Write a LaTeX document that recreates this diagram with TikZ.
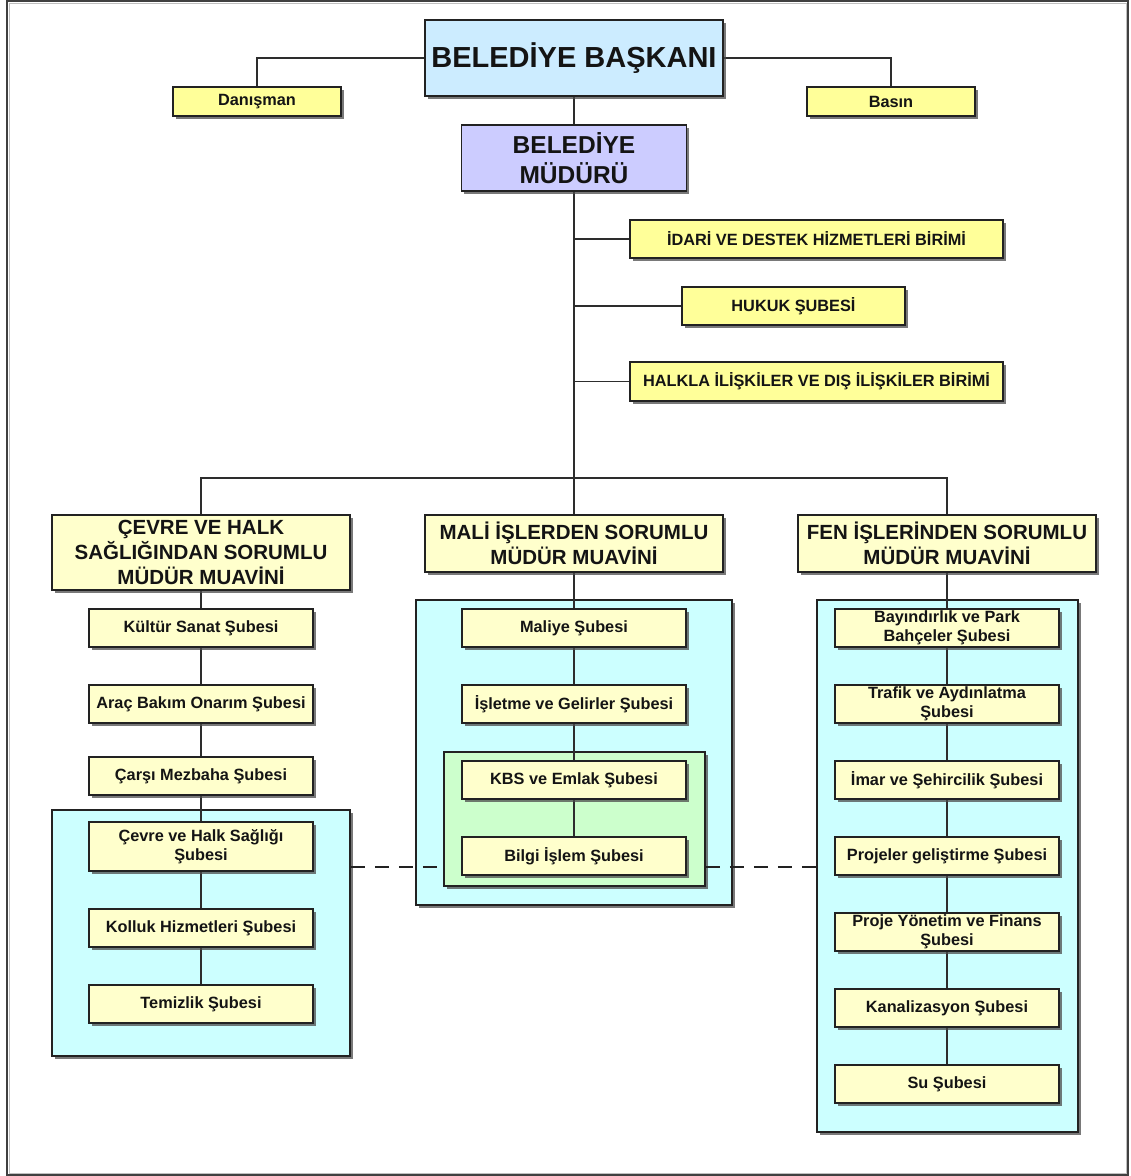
\documentclass[tikz,border=0pt]{standalone}
\usepackage{fontspec}
\setmainfont{Liberation Sans}
\usetikzlibrary{shadows}

\definecolor{boxline}{RGB}{34,34,34}
\definecolor{linkcol}{RGB}{45,45,45}
\definecolor{textcol}{RGB}{20,20,20}
\definecolor{chiefblue}{RGB}{204,236,255}
\definecolor{managerlilac}{RGB}{204,204,255}
\definecolor{stafyellow}{RGB}{255,255,153}
\definecolor{unityellow}{RGB}{255,255,204}
\definecolor{groupcyan}{RGB}{204,255,255}
\definecolor{groupgreen}{RGB}{204,255,204}

\pgfdeclarelayer{groups}
\pgfdeclarelayer{links}
\pgfsetlayers{groups,links,main}

\tikzset{
  shadowed/.style={drop shadow={shadow xshift=2.5pt, shadow yshift=-2.5pt, fill=black!70, opacity=0.75}},
  box/.style={rectangle, draw=boxline, line width=1.8pt, inner sep=0pt, align=center,
    text=textcol, shadowed},
  smallfont/.style={font=\bfseries\fontsize{16.3}{19.5}\selectfont},
  staff/.style={box, smallfont, fill=stafyellow},
  unit/.style={box, smallfont, fill=unityellow, minimum width=224pt, minimum height=38pt},
  deputy/.style={box, fill=unityellow, minimum width=298pt,
    font=\bfseries\fontsize{20.5}{25}\selectfont},
  groupbox/.style={rectangle, draw=boxline, line width=1.8pt, inner sep=0pt, shadowed},
  link/.style={draw=linkcol, line width=1.8pt},
  dashlink/.style={draw=boxline, line width=1.6pt, dash pattern=on 14pt off 10pt},
}

\begin{document}
\begin{tikzpicture}[x=1pt, y=-1pt]
\useasboundingbox (0,0) rectangle (1131,1176);

% outer frame
\draw[draw=black!75, line width=2.2pt] (7,1.2) rectangle (1128,1175);
\draw[draw=black!25, line width=0.8pt] (9,3) rectangle (1126,1173);

% grouping panels
\begin{pgfonlayer}{groups}
  \node[groupbox, fill=groupcyan, minimum width=298pt, minimum height=246pt] (gleft) at (201,933) {};
  \node[groupbox, fill=groupcyan, minimum width=316pt, minimum height=305pt] (gmid) at (574,752.5) {};
  \node[groupbox, fill=groupgreen, minimum width=261pt, minimum height=134pt] (ggreen) at (574.5,819) {};
  \node[groupbox, fill=groupcyan, minimum width=261pt, minimum height=532pt] (gright) at (947.5,866) {};
\end{pgfonlayer}

% top management
\node[box, fill=chiefblue, minimum width=298pt, minimum height=76pt,
      font=\bfseries\fontsize{29}{33}\selectfont] (baskan) at (574,58) {BELEDİYE BAŞKANI};
\node[staff, minimum width=168pt, minimum height=29pt] (danisman) at (257,101.5) {Danışman};
\node[staff, minimum width=168pt, minimum height=29pt] (basin) at (891,101.5) {Basın};
\node[box, fill=managerlilac, minimum width=225pt, minimum height=66pt,
      font=\bfseries\fontsize{24.5}{30}\selectfont] (mudur) at (574,158) {BELEDİYE\\MÜDÜRÜ};

% staff units
\node[staff, minimum width=373pt, minimum height=38pt] (idari) at (816.5,239) {İDARİ VE DESTEK HİZMETLERİ BİRİMİ};
\node[staff, minimum width=223pt, minimum height=38pt] (hukuk) at (793.5,306) {HUKUK ŞUBESİ};
\node[staff, minimum width=373pt, minimum height=39pt] (halkla) at (816.5,381.5) {HALKLA İLİŞKİLER VE DIŞ İLİŞKİLER BİRİMİ};

% deputies
\node[deputy, minimum height=75pt] (cevre) at (201,552.5) {ÇEVRE VE HALK\\SAĞLIĞINDAN SORUMLU\\MÜDÜR MUAVİNİ};
\node[deputy, minimum height=57pt] (mali) at (574,543.5) {MALİ İŞLERDEN SORUMLU\\MÜDÜR MUAVİNİ};
\node[deputy, minimum height=57pt] (fen) at (947,543.5) {FEN İŞLERİNDEN SORUMLU\\MÜDÜR MUAVİNİ};

% left column
\node[unit] (kultur) at (201,628) {Kültür Sanat Şubesi};
\node[unit] (arac) at (201,704) {Araç Bakım Onarım Şubesi};
\node[unit] (carsi) at (201,776) {Çarşı Mezbaha Şubesi};
\node[unit, minimum height=49pt] (cevresag) at (201,846.5) {Çevre ve Halk Sağlığı\\Şubesi};
\node[unit] (kolluk) at (201,928) {Kolluk Hizmetleri Şubesi};
\node[unit] (temizlik) at (201,1004) {Temizlik Şubesi};

% middle column
\node[unit] (maliye) at (574,628) {Maliye Şubesi};
\node[unit] (isletme) at (574,704) {İşletme ve Gelirler Şubesi};
\node[unit] (kbs) at (574,780) {KBS ve Emlak Şubesi};
\node[unit] (bilgi) at (574,856) {Bilgi İşlem Şubesi};

% right column
\node[unit] (bayindir) at (947,628) {Bayındırlık ve Park\\Bahçeler Şubesi};
\node[unit] (trafik) at (947,704) {Trafik ve Aydınlatma\\Şubesi};
\node[unit] (imar) at (947,780) {İmar ve Şehircilik Şubesi};
\node[unit] (projeler) at (947,856) {Projeler geliştirme Şubesi};
\node[unit] (projeyon) at (947,932) {Proje Yönetim ve Finans\\Şubesi};
\node[unit] (kanal) at (947,1008) {Kanalizasyon Şubesi};
\node[unit] (su) at (947,1084) {Su Şubesi};

\coordinate (bar) at (574,478);
\coordinate (dashlvl) at (0,867);

% connectors
\begin{pgfonlayer}{links}
  \draw[link] (baskan.west) -| (danisman.north);
  \draw[link] (baskan.east) -| (basin.north);
  \draw[link] (baskan.south) -- (mudur.north);
  \draw[link] (mudur.south) -- (mali.north);
  \draw[link] (idari.west) -- (idari.west -| mudur.south);
  \draw[link] (hukuk.west) -- (hukuk.west -| mudur.south);
  \draw[link] (halkla.west) -- (halkla.west -| mudur.south);
  \draw[link] (cevre.north) |- (bar) -| (fen.north);
  \draw[link] (cevre.south) -- (temizlik.north);
  \draw[link] (mali.south) -- (bilgi.north);
  \draw[link] (fen.south) -- (su.north);
  \draw[dashlink] (gleft.east |- dashlvl) -- (ggreen.west |- dashlvl);
  \draw[dashlink] (ggreen.east |- dashlvl) -- (gright.west |- dashlvl);
\end{pgfonlayer}
\end{tikzpicture}
\end{document}
